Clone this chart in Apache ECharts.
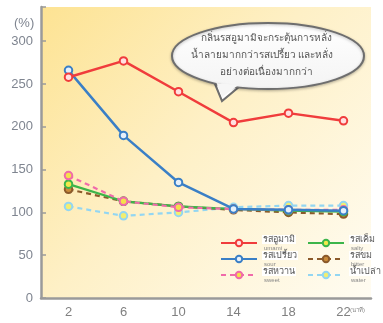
<!DOCTYPE html>
<html><head><meta charset="utf-8">
<script src="https://cdn.jsdelivr.net/npm/echarts@6/dist/echarts.min.js"></script>
<style>html,body{margin:0;padding:0;background:#fff}#c{width:383px;height:323px}</style>
</head><body><div id="c"></div>
<script>
var categories = ['2', '6', '10', '14', '18', '22'];
var umami = [258, 277, 241, 205, 216, 207];
var sour = [266, 190, 135, 104, 103, 102];
var sweet = [143, 113, 106, 104, 103, 103];
var salty = [133, 113, 107, 104, 102, 101];
var bitter = [127, 113, 107, 103, 100, 98];
var water = [107, 96, 100, 106, 108, 108];
var seriesNames = ['รสอูมามิ', 'รสเปรี้ยว', 'รสหวาน', 'รสเค็ม', 'รสขม', 'น้ำเปล่า'];
var seriesSub = ['umami', 'sour', 'sweet', 'salty', 'bitter', 'water'];
var yTicks = [0, 50, 100, 150, 200, 250, 300];
var bubbleLines = ['กลิ่นรสอูมามิจะกระตุ้นการหลั่ง', 'น้ำลายมากกว่ารสเปรี้ยว และหลั่ง', 'อย่างต่อเนื่องมากกว่า'];
var xUnit = '(นาที)';

var chart = echarts.init(document.getElementById('c'));
var font = "'Liberation Sans', 'Noto Sans', sans-serif";
var subMap = {};
seriesNames.forEach(function (n, i) { subMap[n] = seriesSub[i]; });

function mk(name, data, color, fill, dashed, width, z) {
  return {
    name: name, type: 'line', data: data, z: z,
    symbol: 'circle', symbolSize: 7.5,
    lineStyle: { color: color, width: width, type: dashed ? [5, 4] : 'solid' },
    itemStyle: { color: fill, borderColor: color, borderWidth: 2 }
  };
}

var legendText = {
  formatter: function (n) { return '{a|' + n + '}\n{b|' + subMap[n] + '}'; },
  textStyle: {
    rich: {
      a: { fontSize: 9, color: '#555', backgroundColor: '#fff', fontFamily: font, lineHeight: 10, padding: [0, 1] },
      b: { fontSize: 6, color: '#888', fontFamily: font, lineHeight: 7, padding: [0, 0, 0, 2] }
    }
  }
};

chart.setOption({
  animation: false,
  backgroundColor: '#fff',
  grid: {
    left: 41, right: 12, top: 7, bottom: 25,
    show: true, borderWidth: 0,
    backgroundColor: new echarts.graphic.LinearGradient(0, 0, 1, 1, [
      { offset: 0, color: '#fde393' },
      { offset: 0.45, color: '#fef0c6' },
      { offset: 1, color: '#fffcf2' }
    ])
  },
  legend: [
    Object.assign({
      data: [seriesNames[0], seriesNames[1], seriesNames[2]],
      left: 215, top: 230, orient: 'vertical', itemGap: 0,
      itemWidth: 36, itemHeight: 8, selectedMode: false
    }, legendText),
    Object.assign({
      data: [seriesNames[3], seriesNames[4], seriesNames[5]],
      left: 302, top: 230, orient: 'vertical', itemGap: 0,
      itemWidth: 36, itemHeight: 8, selectedMode: false
    }, legendText)
  ],
  xAxis: {
    type: 'category', data: categories, boundaryGap: true,
    axisLine: { lineStyle: { color: '#9a9a9a', width: 2.5 } },
    axisTick: { alignWithLabel: true, inside: true, length: 5, lineStyle: { color: '#9a9a9a', width: 1.5 } },
    axisLabel: { color: '#808080', fontSize: 13, fontFamily: font, margin: 8 },
    splitLine: { show: false }
  },
  yAxis: {
    type: 'value', min: 0, max: 340, interval: 50,
    axisLine: { show: true, lineStyle: { color: '#9a9a9a', width: 2.5 } },
    axisTick: { show: true, inside: true, length: 5, lineStyle: { color: '#9a9a9a', width: 1.5 } },
    axisLabel: {
      color: '#7f8590', fontSize: 13, fontFamily: font, margin: 8,
      formatter: function (v) { return yTicks.indexOf(v) >= 0 ? String(v) : ''; }
    },
    splitLine: { show: false }
  },
  series: [
    mk(seriesNames[0], umami, '#f03c3c', '#ffe0e0', false, 2.5, 6),
    mk(seriesNames[1], sour, '#3a7fc6', '#e6f0fa', false, 2.5, 5),
    mk(seriesNames[2], sweet, '#f06aaa', '#f5e04a', true, 2.2, 4),
    mk(seriesNames[3], salty, '#3cb54a', '#f2e84a', false, 2.2, 3),
    mk(seriesNames[4], bitter, '#8b5a2b', '#c98a3a', true, 2.2, 2),
    mk(seriesNames[5], water, '#93d6f2', '#f2ee70', true, 2.2, 1)
  ],
  graphic: [
    { type: 'text', left: 14, top: 17, style: { text: '(%)', fill: '#7f8590', font: '13px ' + font } },
    { type: 'text', left: 350, top: 307, style: { text: xUnit, fill: '#888', font: '6px ' + font } },
    {
      type: 'group', z: 100,
      children: [
        { type: 'polygon', z: 1, shape: { points: [[215, 84], [222, 101], [240, 86]] },
          style: { fill: '#fff', stroke: '#6e6e6e', lineWidth: 2 } },
        { type: 'ellipse', z: 2, shape: { cx: 268, cy: 56, rx: 96, ry: 33 },
          style: { fill: new echarts.graphic.LinearGradient(0, 0, 0, 1, [
            { offset: 0, color: '#ffffff' }, { offset: 1, color: '#f4f4f4' }]),
            stroke: '#6e6e6e', lineWidth: 2,
            shadowBlur: 3, shadowColor: 'rgba(0,0,0,0.25)', shadowOffsetY: 1 } },
        { type: 'polygon', z: 3, shape: { points: [[216.5, 83], [222, 97], [238.5, 85]] },
          style: { fill: '#f6f6f6', stroke: null } },
        { type: 'text', z: 4, x: 266, y: 38, style: { text: bubbleLines[0], fill: '#555', font: '10px ' + font, align: 'center', verticalAlign: 'middle' } },
        { type: 'text', z: 4, x: 262, y: 55, style: { text: bubbleLines[1], fill: '#555', font: '10px ' + font, align: 'center', verticalAlign: 'middle' } },
        { type: 'text', z: 4, x: 266, y: 72, style: { text: bubbleLines[2], fill: '#555', font: '10px ' + font, align: 'center', verticalAlign: 'middle' } }
      ]
    }
  ]
});
</script></body></html>
